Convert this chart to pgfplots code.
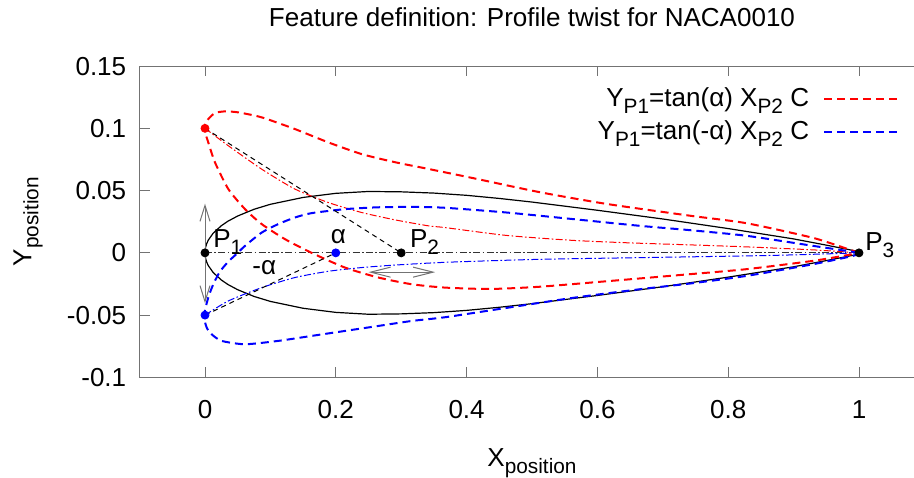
\documentclass[border=0pt]{standalone}
\usepackage{fontspec}
\setmainfont{Liberation Sans}
\usepackage{pgfplots}
\pgfplotsset{compat=1.18}
\usetikzlibrary{arrows.meta}
\newcommand{\sub}[1]{\raisebox{-0.27em}{\fontsize{10.4}{12}\selectfont #1}}
\definecolor{axgray}{gray}{0.45}
\begin{document}
\begin{tikzpicture}
\begin{axis}[
  scale only axis, width=392pt, height=155.5pt,
  xmin=-0.1, xmax=1.1, ymin=-0.1, ymax=0.15,
  xtick={0,0.2,0.4,0.6,0.8,1}, xticklabels={0,0.2,0.4,0.6,0.8,1},
  ytick={-0.1,-0.05,0,0.05,0.1,0.15}, yticklabels={-0.1,-0.05,0,0.05,0.1,0.15},
  tick align=inside, xtick pos=both, ytick pos=both, major tick length=5pt,
  tick style={axgray, line width=0.5pt},
  axis line style={axgray, line width=0.5pt},
  font=\fontsize{13}{15.6}\selectfont,
  tick label style={font=\fontsize{13}{15.6}\selectfont},
  xticklabel style={anchor=base, yshift=-20.5pt},
  yticklabel style={anchor=east, inner sep=0pt, xshift=-6.5pt},
  title={Feature definition: Profile twist for NACA0010},
  title style={at={(axis description cs:0.5,1.1286)}, anchor=base, inner sep=0pt, yshift=-6pt},
  xlabel={X\sub{position}},
  xlabel style={at={(axis description cs:0.5,-0.285)}, anchor=base, inner sep=0pt},
  ylabel={Y\sub{position}},
  ylabel style={at={(axis description cs:-0.1378,0.5)}, anchor=base, inner sep=0pt},
  legend plot pos=right,
  legend cell align=right,
  legend image code/.code={\draw[#1] (0pt,0pt) -- (37pt,0pt);},
  legend style={draw=none, fill=none, at={(axis cs:1.062,0.136)}, anchor=north east,
    font=\fontsize{13}{15.6}\selectfont, row sep=1.5pt, column sep=5pt, inner sep=0pt,
    nodes={inner sep=2pt}},
]
% bounding box corners
\coordinate (bbl) at (axis cs:-0.31346,-0.18039);
\coordinate (btr) at (axis cs:1.08410,0.20305);

% black NACA0010 profile
\addplot[black, line width=0.6pt, forget plot] coordinates {
(1,0.001) (0.95,0.0062) (0.9,0.0112) (0.8,0.0195) (0.7,0.0272) (0.6,0.0342)
(0.5,0.0408) (0.45,0.0437) (0.4,0.0462) (0.35,0.0480) (0.3,0.0490) (0.25,0.0493)
(0.2,0.0478) (0.15,0.0445) (0.1,0.0390) (0.075,0.0350) (0.05,0.0296)
(0.035,0.0254) (0.025,0.0218) (0.0125,0.0158) (0.005,0.0102) (0.0025,0.0073)
(0.001,0.0046) (0,0)
(0.001,-0.0046) (0.0025,-0.0073) (0.005,-0.0102) (0.0125,-0.0158) (0.025,-0.0218)
(0.035,-0.0254) (0.05,-0.0296) (0.075,-0.0350) (0.1,-0.0390) (0.15,-0.0445)
(0.2,-0.0478) (0.25,-0.0493) (0.3,-0.0490) (0.35,-0.0480) (0.4,-0.0462)
(0.45,-0.0437) (0.5,-0.0408) (0.6,-0.0342) (0.7,-0.0272) (0.8,-0.0195)
(0.9,-0.0112) (0.95,-0.0062) (1,-0.001)
};

% black chord
\addplot[black!80, line width=0.5pt, dash pattern=on 3.5pt off 1.2pt on 0.8pt off 1.2pt, forget plot]
  coordinates {(0,0) (1,0)};

% red chord (dash-dot)
\addplot[red, line width=0.5pt, smooth, tension=0.4, dash pattern=on 3.5pt off 1.2pt on 0.8pt off 1.2pt, forget plot]
  coordinates {(0,0.1) (0.0357,0.086) (0.0867,0.0672) (0.1376,0.0512) (0.1886,0.0404)
  (0.2396,0.0324) (0.2905,0.0265) (0.3415,0.0217) (0.367,0.0203) (0.461,0.0140)
  (0.563,0.0100) (0.65,0.0080) (0.742,0.0064) (0.828,0.0048) (0.93,0.0024) (1,0)};

% blue chord (dash-dot)
\addplot[blue, line width=0.5pt, smooth, tension=0.4, dash pattern=on 3.5pt off 1.2pt on 0.8pt off 1.2pt, forget plot]
  coordinates {(0,-0.05) (0.0357,-0.0386) (0.0867,-0.0279) (0.1376,-0.0198)
  (0.1886,-0.0148) (0.2396,-0.0118) (0.2905,-0.0098) (0.367,-0.0076) (0.512,-0.0052)
  (0.742,-0.0032) (0.879,-0.0019) (1,0)};

% red twisted profile
\addplot[red, line width=1pt, smooth, tension=0.4, dash pattern=on 4pt off 2.5pt] coordinates {
(1,0) (0.991,0.0016) (0.93,0.0120) (0.828,0.0238) (0.742,0.0298) (0.614,0.0393)
(0.512,0.0487) (0.41,0.0600) (0.3415,0.0674) (0.2905,0.0728) (0.2396,0.0793)
(0.1886,0.0887) (0.1376,0.0994) (0.0867,0.1088) (0.051,0.1128) (0.0306,0.1136)
(0.0153,0.1123) (0.005,0.1074) (-0.0015,0.1005)
(0.005,0.0887) (0.0153,0.0726) (0.0357,0.0512) (0.0612,0.0351) (0.0867,0.0231)
(0.1223,0.0110) (0.163,0.0) (0.214,-0.0118) (0.265,-0.0198) (0.316,-0.0252)
(0.367,-0.0279) (0.436,-0.0290) (0.512,-0.0272) (0.614,-0.0228) (0.742,-0.0171)
(0.828,-0.0131) (0.93,-0.0064) (0.991,-0.001) (1,0)
};
\addlegendentry{Y\sub{P1}=tan(α) X\sub{P2} C}

% blue twisted profile
\addplot[blue, line width=1pt, smooth, tension=0.4, dash pattern=on 4pt off 2.5pt] coordinates {
(1,0) (0.991,0.0008) (0.93,0.0056) (0.828,0.0137) (0.742,0.0182) (0.665,0.0217)
(0.563,0.0271) (0.461,0.0324) (0.367,0.0362) (0.316,0.0369) (0.265,0.0366)
(0.214,0.0351) (0.163,0.0319) (0.1376,0.0284) (0.112,0.0231) (0.0867,0.0163)
(0.0612,0.0056) (0.048,-0.0010) (0.0357,-0.0070) (0.0229,-0.0150) (0.0127,-0.0252)
(0.005,-0.0359) (-0.0015,-0.0505)
(0.0026,-0.0600) (0.0102,-0.0654) (0.0255,-0.0707) (0.0612,-0.0734) (0.112,-0.0707)
(0.163,-0.0667) (0.214,-0.0627) (0.265,-0.0587) (0.316,-0.0547) (0.367,-0.0517)
(0.461,-0.0442) (0.563,-0.0361) (0.665,-0.0292) (0.742,-0.0246) (0.828,-0.0185)
(0.93,-0.0091) (0.991,-0.0024) (1,0)
};
\addlegendentry{Y\sub{P1}=tan(-α) X\sub{P2} C}

% construction lines
\addplot[black, line width=0.5pt, dash pattern=on 2.5pt off 2pt, forget plot]
  coordinates {(0,0.1) (0.3,0)};
\addplot[black, line width=0.5pt, dash pattern=on 2.5pt off 2pt, forget plot]
  coordinates {(0,-0.05) (0.2,0)};

% arrows
\draw[axgray, line width=0.5pt, {Straight Barb[length=8pt,width=5pt]}-{Straight Barb[length=8pt,width=5pt]}]
  (axis cs:0,0.0395) -- (axis cs:0,-0.0405);
\draw[axgray, line width=0.5pt, {Straight Barb[length=10pt,width=5pt]}-{Straight Barb[length=10pt,width=5pt]}]
  (axis cs:0.25,-0.0155) -- (axis cs:0.352,-0.0155);

% points
\addplot[only marks, mark=*, mark size=2pt, black, forget plot] coordinates {(0,0) (0.3,0) (1,0)};
\addplot[only marks, mark=*, mark size=2pt, red, forget plot] coordinates {(0,0.1)};
\addplot[only marks, mark=*, mark size=2pt, blue, forget plot] coordinates {(0,-0.05) (0.2,0)};

% labels
\node[anchor=base west, inner sep=0pt] at (axis cs:0.012,0.004) {P\sub{1}};
\node[anchor=base, inner sep=0pt] at (axis cs:0.204,0.0072) {α};
\node[anchor=base west, inner sep=0pt] at (axis cs:0.313,0.004) {P\sub{2}};
\node[anchor=base west, inner sep=0pt] at (axis cs:0.072,-0.017) {-α};
\node[anchor=base west, inner sep=0pt] at (axis cs:1.009,0.0016) {P\sub{3}};
\end{axis}
\pgfresetboundingbox
\path[use as bounding box] (bbl) rectangle (btr);
\end{tikzpicture}
\end{document}
